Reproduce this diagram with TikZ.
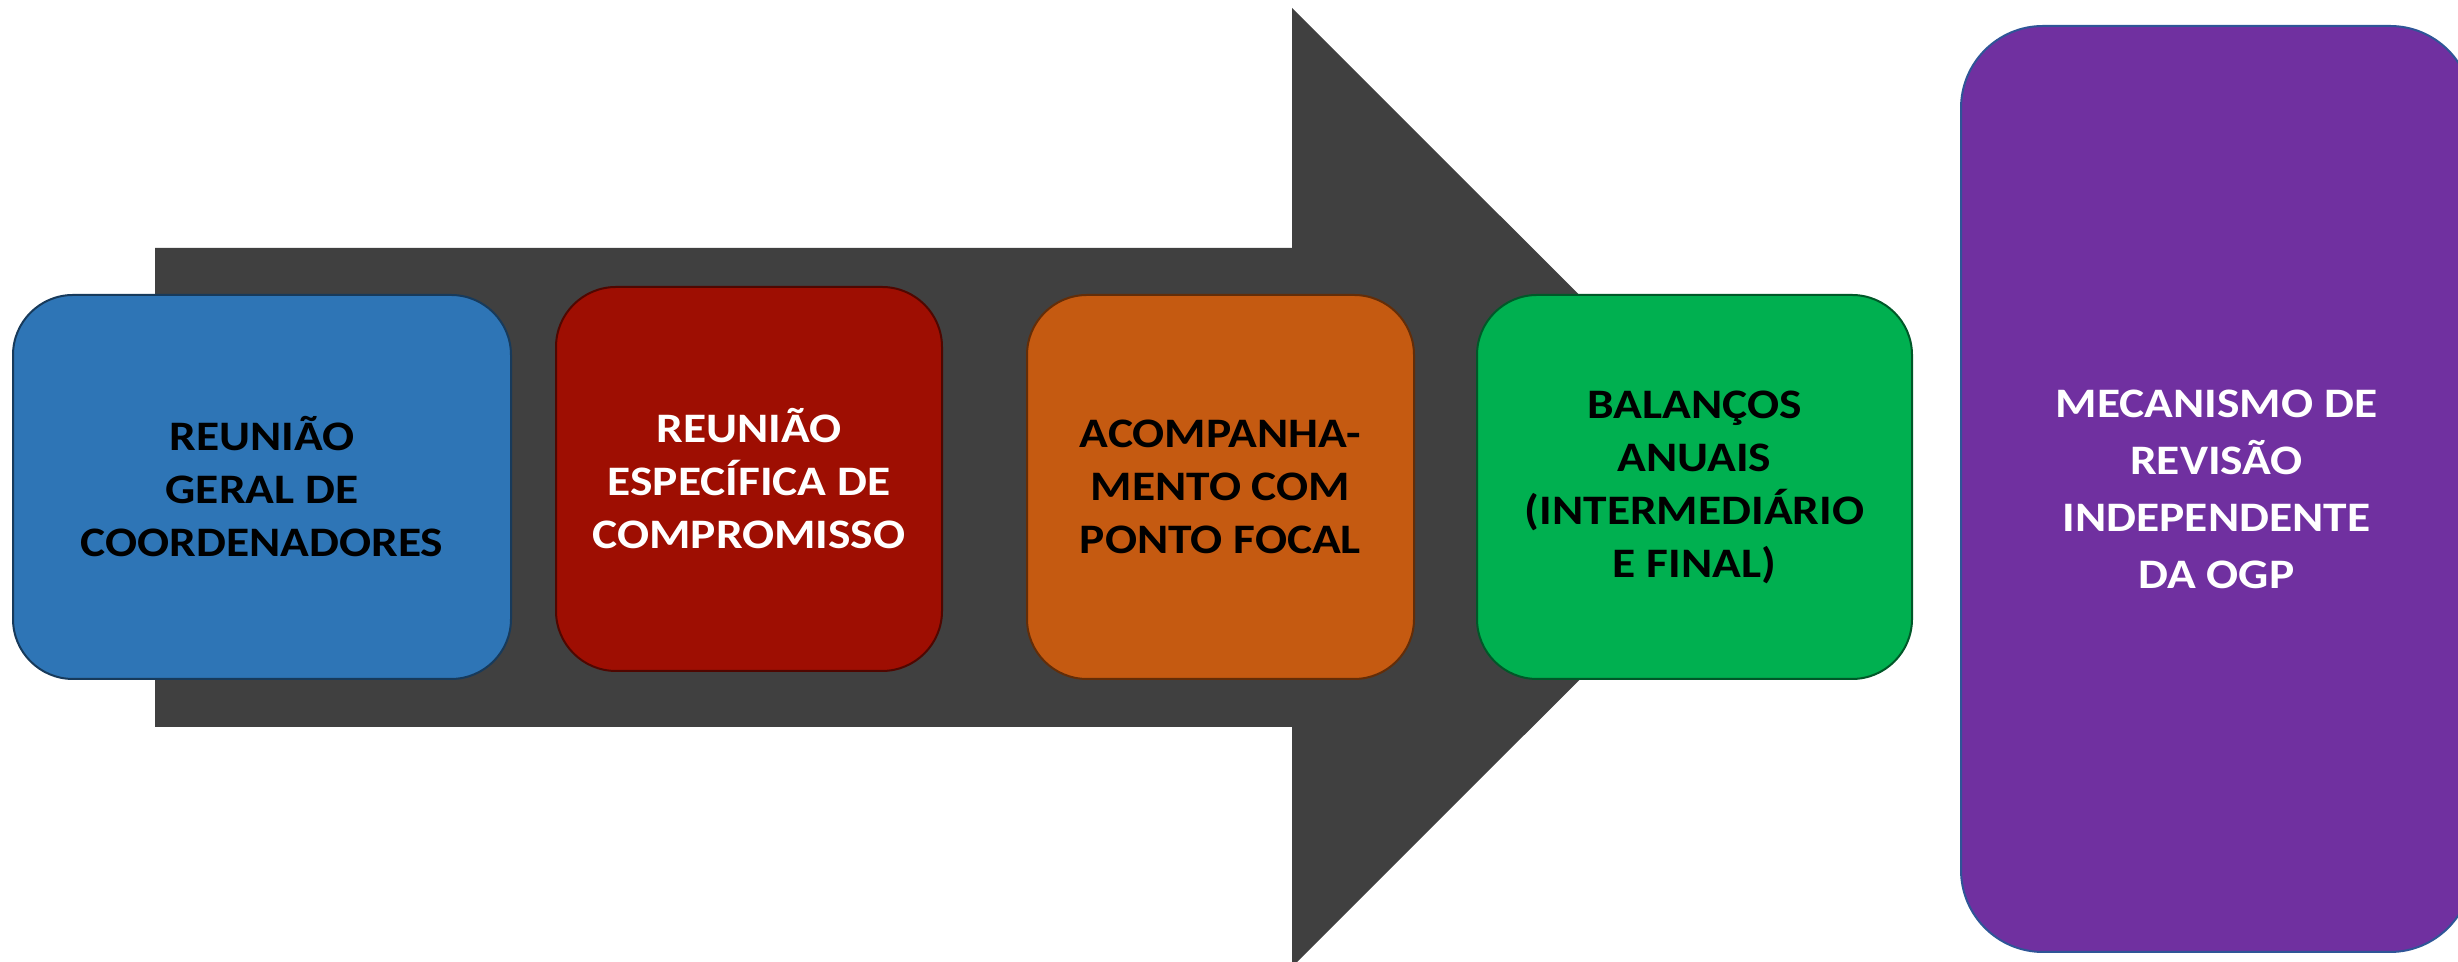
\documentclass[tikz,border=0pt]{standalone}
\usepackage{fontspec}
\setmainfont{Carlito}[FakeStretch=1.13]
\usetikzlibrary{positioning}

\definecolor{seta}{HTML}{404040}
\definecolor{azul}{HTML}{2E75B6}
\definecolor{vermelho}{HTML}{9E0E02}
\definecolor{laranja}{HTML}{C55A11}
\definecolor{verde}{HTML}{00B050}
\definecolor{roxo}{HTML}{7030A0}
\definecolor{contorno}{HTML}{2F5597}

\begin{document}
\begin{tikzpicture}[x=0.5pt,y=0.5pt]
\tikzstyle{etapa}=[rectangle,rounded corners=30pt,inner sep=0pt,align=center,line width=1pt,minimum height=192pt,font=\fontsize{21}{26.5}\selectfont\bfseries]
\useasboundingbox (0,0) rectangle (2458,962);
\clip (0,0) rectangle (2458,962);
\fill[seta] (155,714) -- (1292,714) -- (1292,954) -- (1772,474.5) -- (1292,-5) -- (1292,235) -- (155,235) -- cycle;
\node[etapa,fill=azul,draw=azul!50!black,minimum width=249pt] (geral) at (262,475) {REUNIÃO\\GERAL DE\\COORDENADORES};
\node[etapa,fill=vermelho,draw=vermelho!50!black,text=white,minimum width=193pt] (especifica) at (749,483) {REUNIÃO\\ESPECÍFICA DE\\COMPROMISSO};
\node[etapa,fill=laranja,draw=laranja!50!black,minimum width=193.5pt] (acompanha) at (1220.5,475) {ACOMPANHA-\\MENTO COM\\PONTO FOCAL};
\node[etapa,fill=verde,draw=verde!50!black,minimum width=217.5pt] (balancos) at (1694.5,475) {BALANÇOS\\ANUAIS\\(INTERMEDIÁRIO\\E FINAL)};
\node[etapa,fill=roxo,draw=contorno,text=white,rounded corners=41pt,minimum width=255.5pt,minimum height=463pt,font=\fontsize{21}{28.5}\selectfont\bfseries] (mecanismo) at (2216.5,473) {MECANISMO DE\\REVISÃO\\INDEPENDENTE\\DA OGP};
\end{tikzpicture}
\end{document}
